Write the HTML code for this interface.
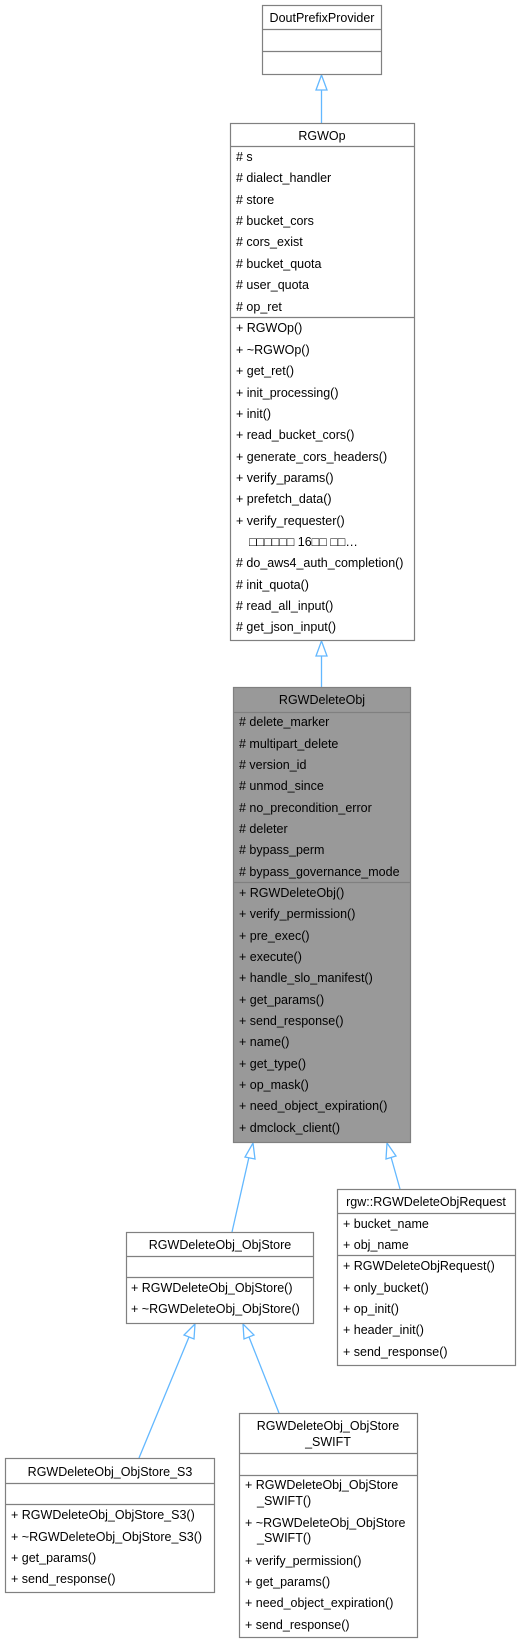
<!DOCTYPE html>
<html><head><meta charset="utf-8"><style>
html,body{margin:0;padding:0;background:#fff;}
svg{display:block;}
text{font-family:"Liberation Sans","DejaVu Sans",sans-serif;font-size:12.5px;fill:#000;}
.t{text-anchor:middle;}
</style></head><body>
<svg width="520" height="1643" viewBox="0 0 520 1643" xmlns="http://www.w3.org/2000/svg">
<g fill="none" stroke="#63b8ff" stroke-width="1.3">
<line x1="321.5" y1="90" x2="321.5" y2="123"/>
<polygon points="321.5,75 316,90 327,90" fill="#fff"/>
<line x1="321.5" y1="656" x2="321.5" y2="687"/>
<polygon points="321.5,641 316,656 327,656" fill="#fff"/>
<line x1="249" y1="1157" x2="232" y2="1232"/>
<polygon points="253,1143 245,1157 255,1159" fill="#fff"/>
<line x1="391" y1="1157" x2="400" y2="1189"/>
<polygon points="387,1143 386,1159 396,1156" fill="#fff"/>
<line x1="189" y1="1337" x2="139" y2="1458"/>
<polygon points="195,1324 184,1335 194,1339" fill="#fff"/>
<line x1="249" y1="1337" x2="279" y2="1413"/>
<polygon points="243,1324 244,1339 254,1335" fill="#fff"/>
</g>
<g stroke="#808080" stroke-width="1.2" fill="#fff">
<rect x="262.5" y="5.5" width="119" height="69"/>
<line x1="262.5" y1="29.5" x2="381.5" y2="29.5"/><line x1="262.5" y1="51.5" x2="381.5" y2="51.5"/>
<rect x="230.5" y="123.5" width="184" height="517"/>
<line x1="230.5" y1="146.5" x2="414.5" y2="146.5"/><line x1="230.5" y1="317.5" x2="414.5" y2="317.5"/>
<rect x="233.5" y="687.5" width="177" height="455" fill="#999"/>
<line x1="233.5" y1="712.5" x2="410.5" y2="712.5"/><line x1="233.5" y1="882.5" x2="410.5" y2="882.5"/>
<rect x="337.5" y="1189.5" width="178" height="176"/>
<line x1="337.5" y1="1213.5" x2="515.5" y2="1213.5"/><line x1="337.5" y1="1255.5" x2="515.5" y2="1255.5"/>
<rect x="126.5" y="1232.5" width="187" height="91"/>
<line x1="126.5" y1="1256.5" x2="313.5" y2="1256.5"/><line x1="126.5" y1="1277.5" x2="313.5" y2="1277.5"/>
<rect x="5.5" y="1458.5" width="209" height="134"/>
<line x1="5.5" y1="1483.5" x2="214.5" y2="1483.5"/><line x1="5.5" y1="1504.5" x2="214.5" y2="1504.5"/>
<rect x="239.5" y="1413.5" width="178" height="224"/>
<line x1="239.5" y1="1453.5" x2="417.5" y2="1453.5"/><line x1="239.5" y1="1475.5" x2="417.5" y2="1475.5"/>
</g>
<text class="t" x="322" y="22">DoutPrefixProvider</text>
<text class="t" x="322" y="140">RGWOp</text>
<g>
<text x="236" y="161"># s</text>
<text x="236" y="182"># dialect_handler</text>
<text x="236" y="204"># store</text>
<text x="236" y="225"># bucket_cors</text>
<text x="236" y="246"># cors_exist</text>
<text x="236" y="268"># bucket_quota</text>
<text x="236" y="289"># user_quota</text>
<text x="236" y="311"># op_ret</text>
<text x="236" y="332">+ RGWOp()</text>
<text x="236" y="354">+ ~RGWOp()</text>
<text x="236" y="375">+ get_ret()</text>
<text x="236" y="397">+ init_processing()</text>
<text x="236" y="418">+ init()</text>
<text x="236" y="439">+ read_bucket_cors()</text>
<text x="236" y="461">+ generate_cors_headers()</text>
<text x="236" y="482">+ verify_params()</text>
<text x="236" y="503">+ prefetch_data()</text>
<text x="236" y="525">+ verify_requester()</text>
<text x="249" y="546">□□□□□□ 16□□ □□…</text>
<text x="236" y="567"># do_aws4_auth_completion()</text>
<text x="236" y="589"># init_quota()</text>
<text x="236" y="610"># read_all_input()</text>
<text x="236" y="631"># get_json_input()</text>
</g>
<text class="t" x="322" y="704">RGWDeleteObj</text>
<g>
<text x="239" y="726"># delete_marker</text>
<text x="239" y="748"># multipart_delete</text>
<text x="239" y="769"># version_id</text>
<text x="239" y="790"># unmod_since</text>
<text x="239" y="812"># no_precondition_error</text>
<text x="239" y="833"># deleter</text>
<text x="239" y="854"># bypass_perm</text>
<text x="239" y="876"># bypass_governance_mode</text>
<text x="239" y="897">+ RGWDeleteObj()</text>
<text x="239" y="918">+ verify_permission()</text>
<text x="239" y="940">+ pre_exec()</text>
<text x="239" y="961">+ execute()</text>
<text x="239" y="982">+ handle_slo_manifest()</text>
<text x="239" y="1004">+ get_params()</text>
<text x="239" y="1025">+ send_response()</text>
<text x="239" y="1046">+ name()</text>
<text x="239" y="1068">+ get_type()</text>
<text x="239" y="1089">+ op_mask()</text>
<text x="239" y="1110">+ need_object_expiration()</text>
<text x="239" y="1132">+ dmclock_client()</text>
</g>
<text class="t" x="426" y="1206">rgw::RGWDeleteObjRequest</text>
<g>
<text x="343" y="1228">+ bucket_name</text>
<text x="343" y="1249">+ obj_name</text>
<text x="343" y="1270">+ RGWDeleteObjRequest()</text>
<text x="343" y="1292">+ only_bucket()</text>
<text x="343" y="1313">+ op_init()</text>
<text x="343" y="1334">+ header_init()</text>
<text x="343" y="1356">+ send_response()</text>
</g>
<text class="t" x="220" y="1249">RGWDeleteObj_ObjStore</text>
<text x="131" y="1292">+ RGWDeleteObj_ObjStore()</text>
<text x="131" y="1313">+ ~RGWDeleteObj_ObjStore()</text>
<text class="t" x="110" y="1476">RGWDeleteObj_ObjStore_S3</text>
<text x="11" y="1519">+ RGWDeleteObj_ObjStore_S3()</text>
<text x="11" y="1541">+ ~RGWDeleteObj_ObjStore_S3()</text>
<text x="11" y="1562">+ get_params()</text>
<text x="11" y="1583">+ send_response()</text>
<text class="t" x="328" y="1430">RGWDeleteObj_ObjStore</text>
<text class="t" x="328" y="1446">_SWIFT</text>
<text x="245" y="1489">+ RGWDeleteObj_ObjStore</text>
<text x="257" y="1505">_SWIFT()</text>
<text x="245" y="1527">+ ~RGWDeleteObj_ObjStore</text>
<text x="257" y="1542">_SWIFT()</text>
<text x="245" y="1565">+ verify_permission()</text>
<text x="245" y="1586">+ get_params()</text>
<text x="245" y="1607">+ need_object_expiration()</text>
<text x="245" y="1629">+ send_response()</text>
</svg>
</body></html>
